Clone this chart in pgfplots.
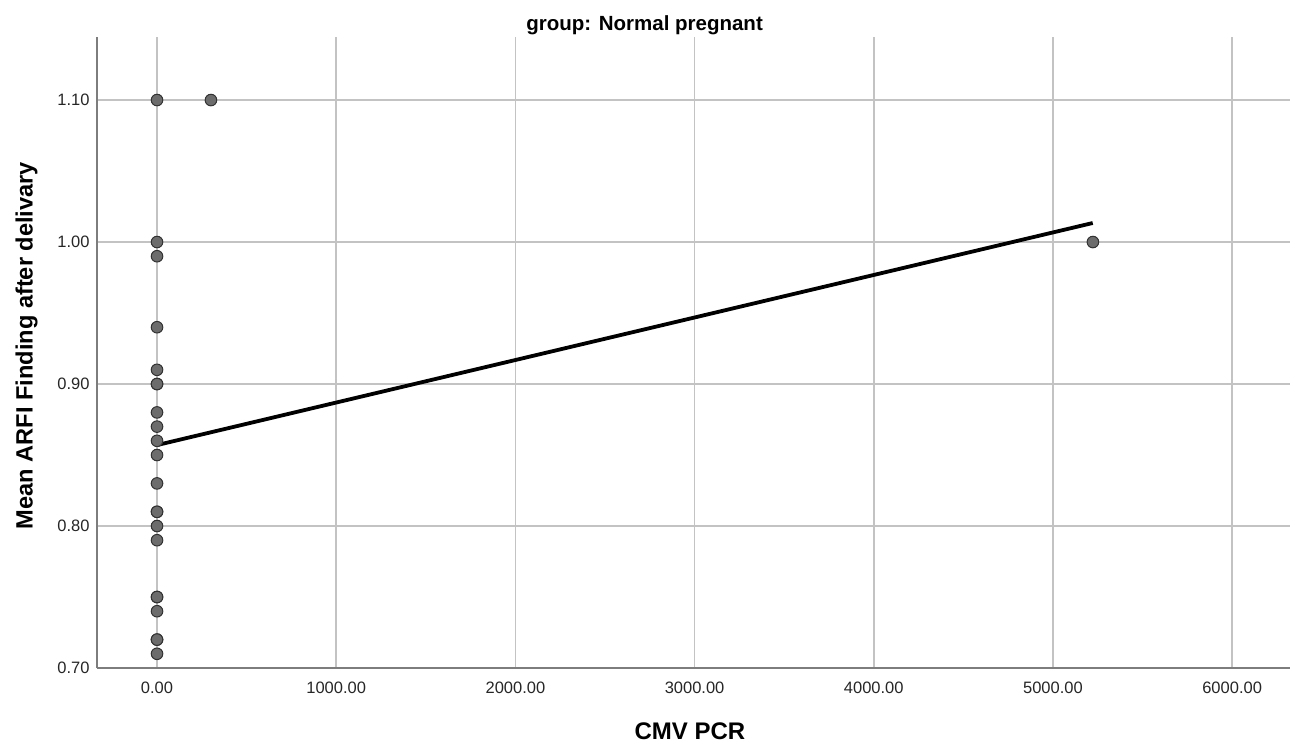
\documentclass[border=0pt]{standalone}
\usepackage{pgfplots}
\pgfplotsset{compat=1.18}
\usepackage{fontspec}
\setmainfont{Liberation Sans}
\definecolor{gridc}{RGB}{195,195,195}
\definecolor{axisc}{RGB}{125,125,125}
\definecolor{markfill}{RGB}{108,108,108}
\definecolor{markdraw}{RGB}{50,50,50}
\begin{document}
\begin{tikzpicture}
\begin{axis}[
  scale only axis,
  width=1193bp, height=631bp,
  xmin=-335, xmax=6323,
  ymin=0.70, ymax=1.1444,
  axis x line*=bottom, axis y line*=left,
  axis line style={axisc, line width=1.4bp, -},
  xtick={0,1000,2000,3000,4000,5000,6000},
  ytick={0.70,0.80,0.90,1.00,1.10},
  major tick length=0pt,
  grid=major,
  major grid style={gridc, line width=1.7bp},
  /pgf/number format/assume math mode=true,
  xticklabel style={/pgf/number format/.cd, fixed, fixed zerofill, precision=2, 1000 sep={}, /tikz/.cd, font=\fontsize{16.5bp}{19bp}\selectfont, yshift=-10bp, text=black!85},
  yticklabel style={/pgf/number format/.cd, fixed, fixed zerofill, precision=2, /tikz/.cd, font=\fontsize{16.5bp}{19bp}\selectfont, xshift=-4bp, text=black!85},
  scaled x ticks=false,
  title={\bfseries group: Normal pregnant},
  title style={at={(rel axis cs:0.459,1.0098)}, anchor=center, font=\fontsize{20.5bp}{23bp}\selectfont},
  xlabel={\bfseries CMV PCR},
  xlabel style={at={(rel axis cs:0.497,-0.0998)}, anchor=center, font=\fontsize{24bp}{28bp}\selectfont},
  ylabel={\bfseries Mean ARFI Finding after delivary},
  ylabel style={at={(rel axis cs:-0.0590,0.511)}, anchor=center, font=\fontsize{23.6bp}{27bp}\selectfont},
  clip=false,
]
\addplot[black, line width=3.8bp] coordinates {(0,0.857) (5222,1.0134)};
\addplot[only marks, mark=*, mark size=5.8bp, mark options={fill=markfill, draw=markdraw, line width=1bp}] coordinates {
(0,1.10) (301,1.10) (5223,1.00)
(0,1.00) (0,0.99) (0,0.94) (0,0.91) (0,0.90) (0,0.90) (0,0.88) (0,0.87) (0,0.86) (0,0.85) (0,0.83)
(0,0.81) (0,0.81) (0,0.80) (0,0.79) (0,0.75) (0,0.75) (0,0.74) (0,0.72) (0,0.72) (0,0.71)
};
\end{axis}
\path (current axis.south west) ++(-97bp,-78bp) rectangle ([shift={(2bp,37bp)}]current axis.north east);
\end{tikzpicture}
\end{document}
